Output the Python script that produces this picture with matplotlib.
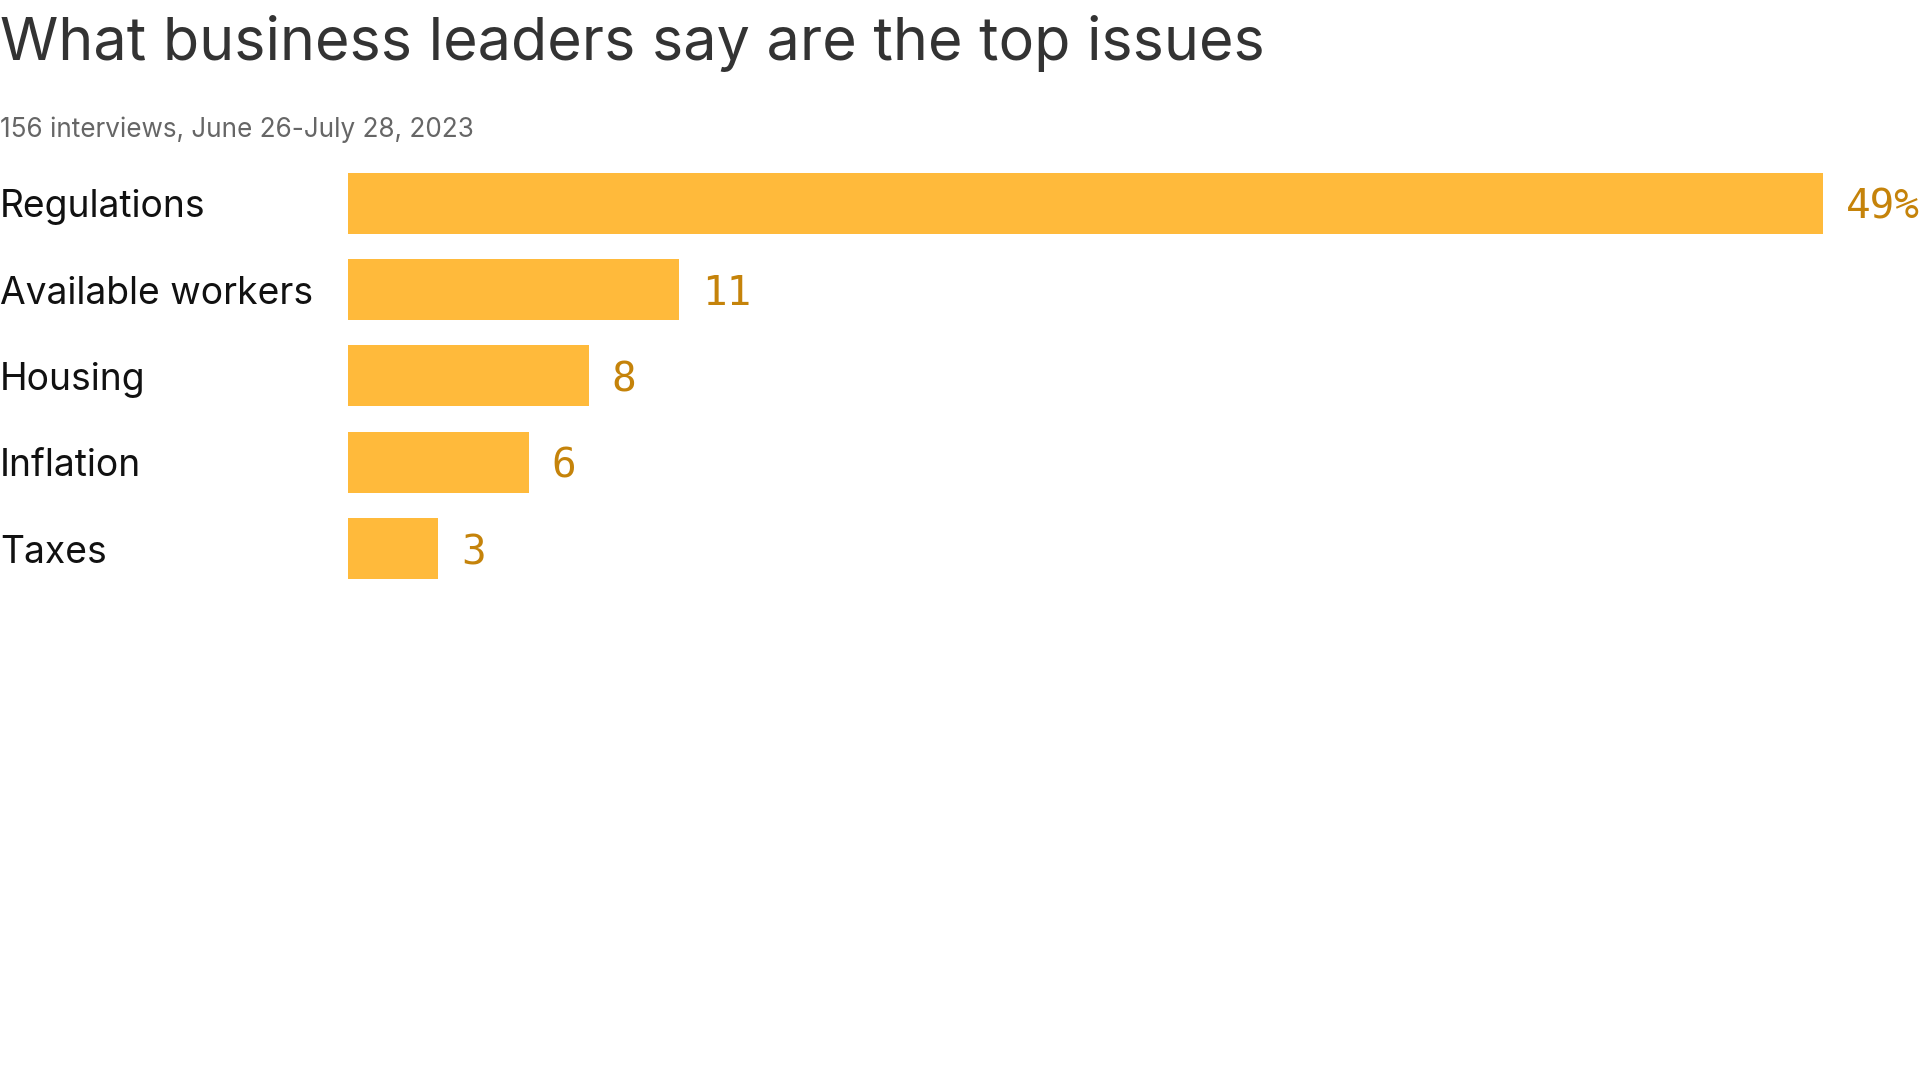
import matplotlib
matplotlib.use("Agg")
import matplotlib.pyplot as plt
import matplotlib.transforms as mtransforms

categories = ["Regulations", "Available workers", "Housing", "Inflation", "Taxes"]
values = [49, 11, 8, 6, 3]
value_labels = ["49%", "11", "8", "6", "3"]

title = "What business leaders say are the top issues"
subtitle = "156 interviews, June 26-July 28, 2023"

W, H = 1920, 1080
fig = plt.figure(figsize=(W / 100, H / 100), dpi=100)
fig.patch.set_facecolor("white")

# axes placed in pixel terms: x=0 at 348px, 30px per unit; rows 86.3px apart
left_px = 348
top_px = 160.2
bottom_px = 591.7
ax = fig.add_axes([left_px / W, 1 - bottom_px / H, (W - left_px) / W, (bottom_px - top_px) / H])
ax.set_xlim(0, (W - left_px) / 30.1)
ax.set_ylim(len(categories) - 0.5, -0.5)
ax.axis("off")

ypos = list(range(len(categories)))
ax.barh(ypos, values, height=0.707, color="#ffba3b", linewidth=0)

label_tf = mtransforms.blended_transform_factory(fig.transFigure, ax.transData)
for y, cat, v, lab in zip(ypos, categories, values, value_labels):
    ax.text(0.0, y, cat, transform=label_tf, ha="left", va="center_baseline",
            fontsize=26.8, family="Inter", color="#111111", clip_on=False)
    ax.annotate(lab, xy=(v, y), xytext=(23, 0), textcoords="offset pixels",
                ha="left", va="center_baseline", fontsize=29.5,
                family="DejaVu Sans Mono", color="#c5830a", annotation_clip=False)

fig.text(0.0, 1 - 60 / H, title, ha="left", va="baseline", fontsize=42.6,
         family="Inter", color="#333333")
fig.text(0.0, 1 - 136.7 / H, subtitle, ha="left", va="baseline", fontsize=18.8,
         family="Inter", color="#666666")

fig.savefig("out.png", dpi=100, facecolor="white")
